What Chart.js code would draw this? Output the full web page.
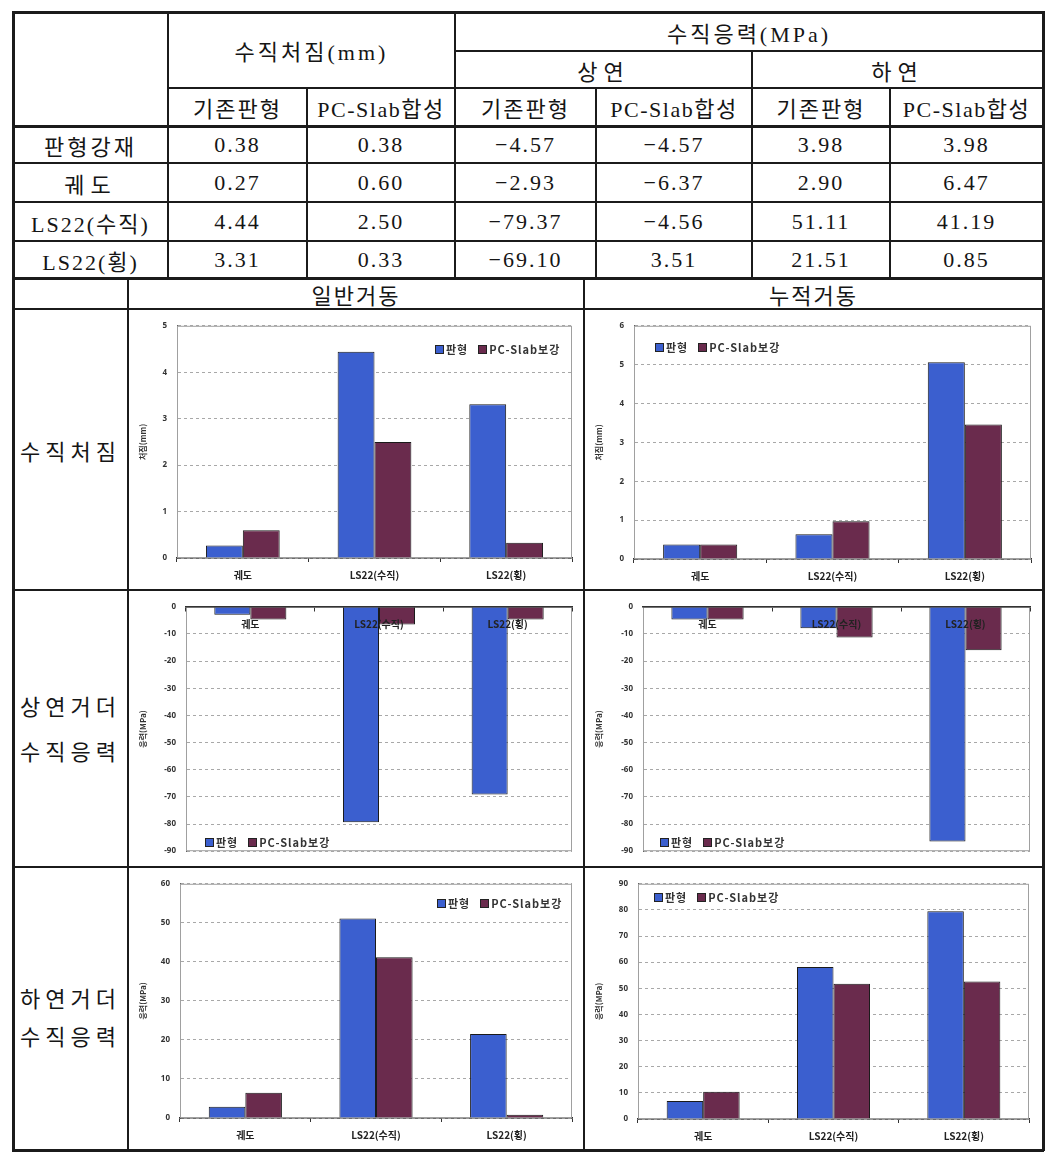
<!DOCTYPE html>
<html><head><meta charset="utf-8">
<script src="https://cdn.jsdelivr.net/npm/chart.js@4.4.1/dist/chart.umd.min.js"></script>
<style>
html,body{margin:0;padding:0;background:#fff;}
#root{position:relative;width:1059px;height:1166px;overflow:hidden;background:#fff;}
.c{position:absolute;display:flex;align-items:center;justify-content:center;font-family:"Liberation Serif","Noto Sans CJK KR",serif;font-size:22px;color:#151515;letter-spacing:2px;white-space:nowrap;}
.ln{position:absolute;background:#1b1b1b;}
canvas{position:absolute;}
.lg{position:absolute;font-family:"Noto Sans CJK KR","Noto Sans",sans-serif;font-weight:700;font-size:11px;color:#333;letter-spacing:1px;white-space:nowrap;display:flex;align-items:center;height:12px;line-height:12px;}
.sq{display:inline-block;width:7px;height:7px;border:1px solid #222;margin-right:2px;}
.gap{display:inline-block;width:10px;}
</style></head><body><div id="root"></div>
<script>
// ---------- table data ----------
const rowLabels = ['판형강재', '궤도', 'LS22(수직)', 'LS22(횡)'];
const subHeaders = ['기존판형', 'PC-Slab합성'];
const deflExisting = [0.38, 0.27, 4.44, 3.31];
const deflSlab = [0.38, 0.60, 2.50, 0.33];
const topExisting = [-4.57, -2.93, -79.37, -69.10];
const topSlab = [-4.57, -6.37, -4.56, 3.51];
const botExisting = [3.98, 2.90, 51.11, 21.51];
const botSlab = [3.98, 6.47, 41.19, 0.85];

// ---------- chart data ----------
const categories = ['궤도', 'LS22(수직)', 'LS22(횡)'];
const seriesNames = ['판형', 'PC-Slab보강'];
const deflGeneralPlate = [0.27, 4.44, 3.31];
const deflGeneralSlab = [0.60, 2.50, 0.33];
const deflCumulPlate = [0.37, 0.64, 5.06];
const deflCumulSlab = [0.37, 0.97, 3.46];
const topGeneralPlate = [-2.93, -79.37, -69.10];
const topGeneralSlab = [-4.7, -6.5, -4.7];
const topCumulPlate = [-4.7, -7.9, -86.4];
const topCumulSlab = [-4.7, -11.3, -16.0];
const botGeneralPlate = [2.90, 51.11, 21.51];
const botGeneralSlab = [6.47, 41.19, 0.85];
const botCumulPlate = [6.9, 58.2, 79.5];
const botCumulSlab = [10.4, 51.8, 52.6];

const root = document.getElementById('root');
function cell(x1, y1, x2, y2, text, extra) {
  const d = document.createElement('div');
  d.className = 'c';
  d.style.left = x1 + 'px'; d.style.top = y1 + 'px';
  d.style.width = (x2 - x1) + 'px'; d.style.height = (y2 - y1) + 'px';
  d.textContent = text;
  if (extra) Object.assign(d.style, extra);
  root.appendChild(d);
  return d;
}
function hline(y, x1, x2, w) {
  const d = document.createElement('div'); d.className = 'ln';
  d.style.left = (x1 - 1) + 'px'; d.style.top = (y - w / 2) + 'px';
  d.style.width = (x2 - x1 + 2) + 'px'; d.style.height = w + 'px';
  root.appendChild(d);
}
function vline(x, y1, y2, w) {
  const d = document.createElement('div'); d.className = 'ln';
  d.style.left = (x - w / 2) + 'px'; d.style.top = (y1 - 1) + 'px';
  d.style.width = w + 'px'; d.style.height = (y2 - y1 + 2) + 'px';
  root.appendChild(d);
}
const fmt = v => (v < 0 ? '\u2212' : '') + Math.abs(v).toFixed(2);

const colX = [13, 168, 307, 455, 596, 752, 890, 1043];
const rowY = [12, 51, 88, 126, 163, 202, 241, 278, 309, 590, 867, 1150];

cell(168, 12, 455, 88, '수직처짐(mm)', {letterSpacing: '3px'});
cell(455, 12, 1043, 51, '수직응력(MPa)', {letterSpacing: '3px'});
cell(455, 51, 752, 88, '상연', {letterSpacing: '6px'});
cell(752, 51, 1043, 88, '하연', {letterSpacing: '6px'});
for (let i = 1; i <= 6; i++) cell(colX[i], 88, colX[i + 1], 126, subHeaders[(i - 1) % 2], {letterSpacing: i % 2 ? '2px' : '1.5px'});
const cols = [deflExisting, deflSlab, topExisting, topSlab, botExisting, botSlab];
const rowSpacing = ['3px', '6px', '2px', '2px'];
for (let r = 0; r < 4; r++) {
  cell(colX[0], rowY[3 + r], colX[1], rowY[4 + r], rowLabels[r], {letterSpacing: rowSpacing[r]});
  for (let c = 0; c < 6; c++) cell(colX[c + 1], rowY[3 + r], colX[c + 2], rowY[4 + r], fmt(cols[c][r]));
}
cell(128, 278, 584, 309, '일반거동');
cell(584, 278, 1043, 309, '누적거동');
cell(13, 309, 128, 590, '수직처짐', {letterSpacing: '5px'});
cell(13, 683, 128, 727, '상연거더', {letterSpacing: '5px'});
cell(13, 728, 128, 772, '수직응력', {letterSpacing: '5px'});
cell(13, 978, 128, 1016, '하연거더', {letterSpacing: '5px'});
cell(13, 1016, 128, 1054, '수직응력', {letterSpacing: '5px'});

// lines
hline(12, 13, 1043, 3); hline(1150, 13, 1043, 3);
vline(13, 12, 1150, 3); vline(1043, 12, 1150, 3);
hline(51, 455, 1043, 2); hline(88, 168, 1043, 2); hline(126, 13, 1043, 3);
hline(163, 13, 1043, 2); hline(202, 13, 1043, 2); hline(241, 13, 1043, 2);
hline(278, 13, 1043, 3); hline(309, 13, 1043, 2); hline(590, 13, 1043, 2); hline(867, 13, 1043, 2);
vline(168, 12, 278, 2); vline(307, 88, 278, 2); vline(455, 12, 278, 2); vline(596, 88, 278, 2);
vline(752, 51, 278, 2); vline(890, 88, 278, 2);
vline(128, 278, 1150, 2); vline(584, 278, 1150, 2);

// ---------- charts ----------
const BLUE = '#3b5fcf', MAROON = '#6a2b4d';
const frame = {
  id: 'frame',
  beforeDatasetsDraw(chart) {
    const {ctx, chartArea: a} = chart;
    ctx.save(); ctx.strokeStyle = '#a0a0a0'; ctx.lineWidth = 1;
    ctx.strokeRect(a.left + 0.5, a.top + 0.5, a.width - 1, a.height - 1);
    ctx.restore();
  }
};
const specs = [
  {plate: deflGeneralPlate, slab: deflGeneralSlab, min: 0, max: 5, title: '처짐(mm)', left: 130, top: 311, w: 452, h: 277, yW: 47, xH: 30, pt: 13, pr: 10, pb: 0, neg: false, lg: [435, 343]},
  {plate: deflCumulPlate, slab: deflCumulSlab, min: 0, max: 6, title: '처짐(mm)', left: 586, top: 311, w: 456, h: 277, yW: 48, xH: 29, pt: 14, pr: 11, pb: 0, neg: false, lg: [655, 341]},
  {plate: topGeneralPlate, slab: topGeneralSlab, min: -90, max: 0, title: '응력(MPa)', left: 130, top: 592, w: 452, h: 274, yW: 56, xH: 0, pt: 12, pr: 10, pb: 10, neg: true, lg: [205, 836]},
  {plate: topCumulPlate, slab: topCumulSlab, min: -90, max: 0, title: '응력(MPa)', left: 586, top: 592, w: 456, h: 274, yW: 57, xH: 0, pt: 13, pr: 12, pb: 8, neg: true, lg: [660, 836]},
  {plate: botGeneralPlate, slab: botGeneralSlab, min: 0, max: 60, title: '응력(MPa)', left: 130, top: 869, w: 452, h: 280, yW: 50, xH: 31, pt: 13, pr: 10, pb: 0, neg: false, lg: [437, 897]},
  {plate: botCumulPlate, slab: botCumulSlab, min: 0, max: 90, title: '응력(MPa)', left: 586, top: 869, w: 456, h: 280, yW: 52, xH: 30, pt: 14, pr: 13, pb: 0, neg: false, lg: [654, 891]}
];

specs.forEach((s, i) => {
  const cv = document.createElement('canvas');
  cv.width = s.w; cv.height = s.h;
  cv.style.left = s.left + 'px'; cv.style.top = s.top + 'px';
  cv.style.width = s.w + 'px'; cv.style.height = s.h + 'px';
  root.appendChild(cv);
  const xScale = {
    type: 'category',
    position: s.neg ? {y: 0} : 'bottom',
    grid: {offset: true, drawOnChartArea: false, drawTicks: true, tickLength: 4, color: '#333'},
    border: {display: true, color: '#333', width: 1.5, z: s.neg ? 1 : 0},
    ticks: {z: s.neg ? 2 : 0, font: {family: '"Noto Sans CJK KR", sans-serif', size: 10, weight: 'bold'}, color: '#222', padding: 7, maxRotation: 0, autoSkip: false}
  };
  if (!s.neg) xScale.afterFit = sc => { sc.height = s.xH; };
  new Chart(cv, {
    type: 'bar',
    data: {
      labels: categories,
      datasets: [
        {label: seriesNames[0], data: s.plate, backgroundColor: BLUE, borderColor: '#1a1a1a', borderWidth: 1},
        {label: seriesNames[1], data: s.slab, backgroundColor: MAROON, borderColor: '#1a1a1a', borderWidth: 1}
      ]
    },
    options: {
      responsive: false, animation: false,
      layout: {padding: {top: s.pt, right: s.pr, bottom: s.pb, left: 0}},
      datasets: {bar: {categoryPercentage: 0.56, barPercentage: 1.0}},
      plugins: {legend: {display: false}, tooltip: {enabled: false}},
      scales: {
        x: xScale,
        y: {
          min: s.min, max: s.max,
          afterFit: sc => { sc.width = s.yW; },
          ticks: {stepSize: s.max - s.min > 10 ? 10 : 1, font: {family: '"Noto Sans", sans-serif', size: 8, weight: 'bold'}, color: '#333', padding: 10},
          grid: {drawTicks: false, color: '#a8a8a8', lineWidth: 1},
          border: {display: true, color: '#555', width: 1, dash: [3, 3]},
          title: {display: true, text: s.title, font: {family: '"Noto Sans CJK KR", sans-serif', size: 8, weight: 'bold'}, color: '#333', padding: {top: 8, bottom: 0}}
        }
      }
    },
    plugins: [frame]
  });
  // legend as HTML text
  const lg = document.createElement('div');
  lg.className = 'lg';
  lg.style.left = s.lg[0] + 'px'; lg.style.top = s.lg[1] + 'px';
  const colors = [BLUE, MAROON];
  seriesNames.forEach((n, k) => {
    if (k) { const g = document.createElement('span'); g.className = 'gap'; lg.appendChild(g); }
    const sq = document.createElement('span'); sq.className = 'sq'; sq.style.background = colors[k]; lg.appendChild(sq);
    const t = document.createElement('span'); t.textContent = n; lg.appendChild(t);
  });
  root.appendChild(lg);
});
</script></body></html>
